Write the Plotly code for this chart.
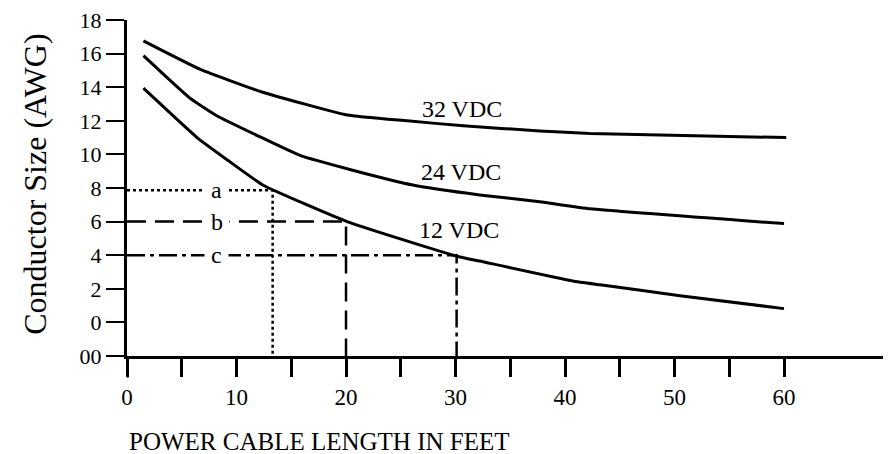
import plotly.graph_objects as go

# ---- data ----
len_32 = [1.5, 6.7, 12.4, 20.1, 25.6, 30.7, 37.7, 42.3, 60.2]
awg_32 = [16.76, 15.06, 13.7, 12.35, 12.0, 11.7, 11.4, 11.24, 11.0]

len_24 = [1.5, 5.75, 8.2, 11.9, 15.8, 20.6, 26.1, 32.2, 37.7, 42.3, 60.0]
awg_24 = [15.88, 13.35, 12.3, 11.12, 9.94, 9.06, 8.18, 7.59, 7.18, 6.76, 5.88]

len_12 = [1.5, 6.4, 9.1, 12.4, 20.1, 30.1, 32.2, 40.7, 43.2, 50.5, 60.0]
awg_12 = [13.94, 11.0, 9.7, 8.18, 6.0, 3.94, 3.65, 2.47, 2.24, 1.59, 0.82]

curve_labels = ["32 VDC", "24 VDC", "12 VDC"]
curve_label_len = [30.6, 30.5, 30.3]
curve_label_awg = [12.7, 8.95, 5.5]

ref_labels = ["a", "b", "c"]
ref_awg = [7.86, 6.0, 4.0]
ref_len = [13.3, 20.0, 30.1]
ref_label_len = [8.2, 8.2, 8.2]
ref_dash = ["3px,3px", "19px,9px", "18px,5px,4px,5px"]

y_tickvals = [18, 16, 14, 12, 10, 8, 6, 4, 2, 0, -2]
y_ticktext = ["18", "16", "14", "12", "10", "8", "6", "4", "2", "0", "00"]
x_tickvals = [0, 5, 10, 15, 20, 25, 30, 35, 40, 45, 50, 55, 60]
x_ticktext = ["0", "", "10", "", "20", "", "30", "", "40", "", "50", "", "60"]

FONT = "Liberation Serif"
Y_BOTTOM = -2
X_MAX = 70.5

fig = go.Figure()

for xs, ys in [(len_32, awg_32), (len_24, awg_24), (len_12, awg_12)]:
    fig.add_trace(go.Scatter(x=xs, y=ys, mode="lines",
                             line=dict(color="black", width=3, shape="spline", smoothing=0.4),
                             showlegend=False, hoverinfo="skip"))

for lab, yv, xv, dash in zip(ref_labels, ref_awg, ref_len, ref_dash):
    fig.add_trace(go.Scatter(x=[0, xv, xv], y=[yv, yv, Y_BOTTOM], mode="lines",
                             line=dict(color="black", width=2.5, dash=dash),
                             showlegend=False, hoverinfo="skip"))

for lab, yv, xv in zip(ref_labels, ref_awg, ref_label_len):
    fig.add_annotation(x=xv, y=yv, text="&nbsp;" + lab + "&nbsp;", showarrow=False,
                       bgcolor="white", borderpad=0,
                       font=dict(family=FONT, size=24, color="black"))

for lab, xv, yv in zip(curve_labels, curve_label_len, curve_label_awg):
    fig.add_annotation(x=xv, y=yv, text=lab, showarrow=False,
                       font=dict(family=FONT, size=24, color="black"))

fig.add_annotation(xref="x", yref="paper", x=0, y=-0.255, xanchor="left", yanchor="middle",
                   text="POWER CABLE LENGTH IN FEET", showarrow=False,
                   font=dict(family=FONT, size=25, color="black"))

fig.add_annotation(xref="paper", yref="paper", x=-0.119, y=0.51, textangle=-90,
                   xanchor="center", yanchor="middle",
                   text="Conductor Size (AWG)", showarrow=False,
                   font=dict(family=FONT, size=32, color="black"))

# y-axis line continues a little below the x axis
fig.add_shape(type="line", xref="x", yref="paper", x0=0, x1=0, y0=0, y1=-0.065,
              line=dict(color="black", width=3))

fig.update_layout(
    width=891, height=454,
    margin=dict(l=119, r=0, t=8, b=106),
    plot_bgcolor="white", paper_bgcolor="white",
    font=dict(family=FONT, size=22, color="black"),
    xaxis=dict(range=[0, X_MAX], tickvals=x_tickvals, ticktext=x_ticktext,
               ticks="outside", ticklen=18, tickwidth=2.5, tickcolor="black",
               showline=True, linecolor="black", linewidth=3,
               showgrid=False, zeroline=False,
               tickfont=dict(family=FONT, size=23, color="black")),
    yaxis=dict(range=[Y_BOTTOM, 18], tickvals=y_tickvals, ticktext=y_ticktext,
               ticks="outside", ticklen=18, tickwidth=2, tickcolor="black",
               showline=True, linecolor="black", linewidth=3,
               showgrid=False, zeroline=False, ticklabeloverflow="allow",
               tickfont=dict(family=FONT, size=22, color="black")),
)

fig.write_html("out.html")
